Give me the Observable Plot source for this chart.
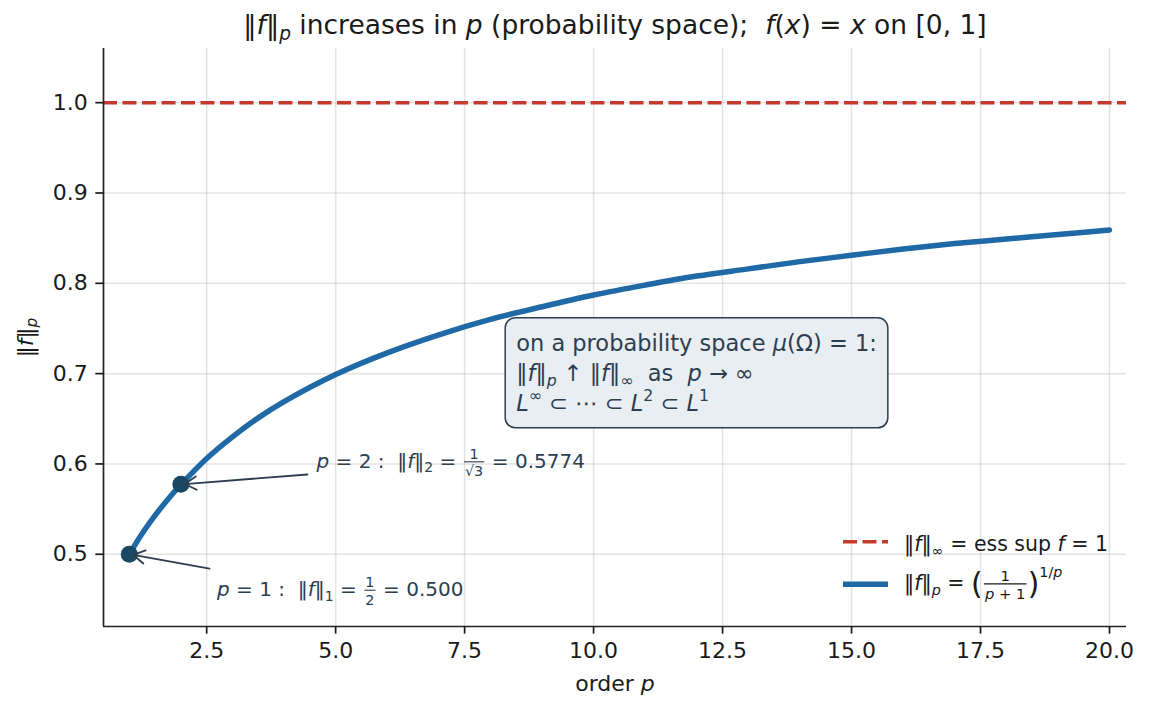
<!DOCTYPE html>
<html>
<head>
<meta charset="utf-8">
<script src="https://cdn.jsdelivr.net/npm/d3@7"></script>
<script src="https://cdn.jsdelivr.net/npm/@observablehq/plot@0.6"></script>
<style>
  body { margin: 0; background: #fff; }
  svg { font-family: "DejaVu Sans", sans-serif; }
</style>
</head>
<body>
<div id="chart"></div>
<script>
// ---------- data ----------
const orders = [1, 1.25, 1.5, 1.75, 2, 2.5, 3, 3.5, 4, 5, 6, 7, 8, 9, 10, 11, 12, 13, 14, 15, 16, 17, 18, 19, 20];
const norms  = [0.500, 0.523, 0.543, 0.561, 0.577, 0.606, 0.630, 0.651, 0.669, 0.699, 0.723, 0.743, 0.760, 0.774, 0.787, 0.798, 0.808, 0.816, 0.824, 0.831, 0.838, 0.844, 0.849, 0.854, 0.859];
const supNorm = [1.0];
const markedOrders = [1, 2];
const markedNorms = [0.5, 0.5774];
const xTicks = [2.5, 5, 7.5, 10, 12.5, 15, 17.5, 20];
const yTicks = [0.5, 0.6, 0.7, 0.8, 0.9, 1.0];

const curve = orders.map((p, i) => ({p, v: norms[i]}));
const marked = markedOrders.map((p, i) => ({p, v: markedNorms[i]}));

// ---------- plain fallback strings (rebuilt as rich text below) ----------
const T_TITLE = "‖f‖p increases in p (probability space);  f(x) = x on [0, 1]";
const T_YLAB = "‖f‖p";
const T_XLAB = "order p";
const T_A1 = "p = 1 :  ‖f‖1 = 1/2 = 0.500";
const T_A2 = "p = 2 :  ‖f‖2 = 1/√3 = 0.5774";
const T_B1 = "on a probability space μ(Ω) = 1:";
const T_B2 = "‖f‖p ↑ ‖f‖∞  as  p → ∞";
const T_B3 = "L∞ ⊂ ⋯ ⊂ L2 ⊂ L1";
const T_L1 = "‖f‖∞ = ess sup f = 1";
const T_L2 = "‖f‖p = (1/(p + 1))^(1/p)";

const BLUE = "#1f6aa6", RED = "#c53a2c", DOT = "#1a4862", SLATE = "#2c3e50", INK = "#1a1a1a";

const plot = Plot.plot({
  width: 1150,
  height: 714,
  marginLeft: 103,
  marginRight: 24,
  marginTop: 48,
  marginBottom: 88,
  style: {fontFamily: "DejaVu Sans", fontSize: "22px", color: INK, background: "white", overflow: "visible"},
  x: {domain: [0.5, 20.33]},
  y: {domain: [0.42, 1.06]},
  marks: [
    Plot.gridX(xTicks, {stroke: "#b0b0b0", strokeOpacity: 0.35, strokeWidth: 1.5}),
    Plot.gridY(yTicks, {stroke: "#b0b0b0", strokeOpacity: 0.35, strokeWidth: 1.5}),
    Plot.ruleY(supNorm, {stroke: RED, strokeWidth: 3.5, strokeDasharray: "14,5.5"}),
    Plot.line(curve, {x: "p", y: "v", stroke: BLUE, strokeWidth: 5.5, curve: "catmull-rom"}),
    Plot.dot(marked, {x: "p", y: "v", r: 8.5, fill: DOT}),
    Plot.arrow(marked, {x1: [2.555, 4.454], y1: [0.4842, 0.5883], x2: "p", y2: "v",
      stroke: SLATE, strokeWidth: 1.8, headLength: 11, insetEnd: 4}),
    Plot.text([T_A1], {x: [2.70], y: [0.4606], textAnchor: "start", lineAnchor: "middle", fontSize: 20, fill: SLATE}),
    Plot.text([T_A2], {x: [4.63], y: [0.6028], textAnchor: "start", lineAnchor: "middle", fontSize: 20, fill: SLATE}),
    Plot.ruleX([0.5], {stroke: "#222", strokeWidth: 1.7}),
    Plot.ruleY([0.42], {stroke: "#222", strokeWidth: 1.7}),
    Plot.axisX(xTicks, {tickFormat: d3.format(".1f"), tickSize: 7.7, tickPadding: 8, label: null, strokeWidth: 1.7}),
    Plot.axisY(yTicks, {tickFormat: d3.format(".1f"), tickSize: 7.7, tickPadding: 8, label: null, strokeWidth: 1.7}),
    Plot.text([T_B1], {x: [8.5], y: [0.70], dy: -30, textAnchor: "start", lineAnchor: "middle", fontSize: 22.5, fill: SLATE}),
    Plot.text([T_B2], {x: [8.5], y: [0.70], dy: 0, textAnchor: "start", lineAnchor: "middle", fontSize: 22.5, fill: SLATE}),
    Plot.text([T_B3], {x: [8.5], y: [0.70], dy: 30, textAnchor: "start", lineAnchor: "middle", fontSize: 22.5, fill: SLATE}),
    Plot.text([T_TITLE], {frameAnchor: "top", dy: -23, textAnchor: "middle", lineAnchor: "middle", fontSize: 26.5, fill: INK}),
    Plot.text([T_YLAB], {frameAnchor: "left", dx: -78, rotate: -90, textAnchor: "middle", lineAnchor: "middle", fontSize: 22, fill: INK}),
    Plot.text([T_XLAB], {frameAnchor: "bottom", dy: 57, textAnchor: "middle", lineAnchor: "middle", fontSize: 22, fill: INK})
  ]
});
document.getElementById("chart").append(plot);

// ---------- rich (math-like) text ----------
const I = s => ({i: s});
const SUB = parts => ({sub: parts});
const SUP = (parts, lift) => ({sup: parts, lift});
const BIG = s => ({big: s});
const FRAC = (n, d) => ({frac: [n, d]});

function renderRich(textNode, segs, fs, color) {
  const t = d3.select(textNode);
  t.text(null);
  let shift = 0, pendingDx = 0;
  const fracs = [];
  const piece = (str, size, target, italic) => {
    const ts = t.append("tspan").text(str).attr("font-size", fs * size);
    if (italic) ts.attr("font-style", "italic");
    if (Math.abs(target - shift) > 1e-6) { ts.attr("dy", target - shift); shift = target; }
    if (pendingDx) { ts.attr("dx", pendingDx); pendingDx = 0; }
    return ts;
  };
  const group = (parts, size, target) => [].concat(parts).map(p =>
    typeof p === "string" ? piece(p, size, target, false) : piece(p.i, size, target, true));
  const len = list => d3.sum(list, n => n.node().getComputedTextLength());
  for (const s of segs) {
    if (typeof s === "string" || s.i !== undefined) group(s, 1, 0);
    else if (s.sub !== undefined) group(s.sub, 0.7, 0.22 * fs);
    else if (s.sup !== undefined) group(s.sup, 0.7, (s.lift ?? -0.42) * fs);
    else if (s.big !== undefined) group(s.big, 1.45, 0.2 * fs);
    else if (s.frac) {
      const p0 = pendingDx; pendingDx = 0;
      const pad = 0.06 * fs;
      const num = group(s.frac[0], 0.72, -0.46 * fs);
      const nw = len(num);
      const den = group(s.frac[1], 0.72, 0.43 * fs);
      const dw = len(den);
      const W = Math.max(nw, dw) + 0.1 * fs;
      num[0].attr("dx", p0 + pad + (W - nw) / 2);
      den[0].attr("dx", -(nw + dw) / 2);
      pendingDx = (W - dw) / 2 + pad;
      fracs.push({first: num[0].node(), W, nw});
    }
  }
  const spans = t.selectAll("tspan").nodes();
  for (const f of fracs) {
    let idx = 0;
    for (const sp of spans) { if (sp === f.first) break; idx += sp.textContent.length; }
    const pos = textNode.getStartPositionOfChar(idx);
    const x1 = pos.x - (f.W - f.nw) / 2;
    const y = pos.y + 0.16 * fs;
    d3.select(textNode.parentNode).append("line")
      .attr("transform", textNode.getAttribute("transform"))
      .attr("x1", x1).attr("x2", x1 + f.W).attr("y1", y).attr("y2", y)
      .attr("stroke", color).attr("stroke-width", Math.max(1, fs * 0.055));
  }
}

const normP = ["‖", I("f"), "‖", SUB(I("p"))];
const richSpecs = new Map([
  [T_TITLE, {fs: 26.5, color: INK, segs: [...normP, " increases in ", I("p"), " (probability space);  ",
      I("f"), "(", I("x"), ") = ", I("x"), " on [0, 1]"]}],
  [T_YLAB, {fs: 22, color: INK, segs: normP}],
  [T_XLAB, {fs: 22, color: INK, segs: ["order ", I("p")]}],
  [T_A1, {fs: 20, color: SLATE, segs: [I("p"), " = 1 :  ‖", I("f"), "‖", SUB("1"), " = ", FRAC("1", "2"), " = 0.500"]}],
  [T_A2, {fs: 20, color: SLATE, segs: [I("p"), " = 2 :  ‖", I("f"), "‖", SUB("2"), " = ", FRAC("1", "√3"), " = 0.5774"]}],
  [T_B1, {fs: 22.5, color: SLATE, segs: ["on a probability space ", I("μ"), "(Ω) = 1:"]}],
  [T_B2, {fs: 22.5, color: SLATE, segs: [...normP, " ↑ ‖", I("f"), "‖", SUB("∞"), "  as  ", I("p"), " → ∞"]}],
  [T_B3, {fs: 22.5, color: SLATE, segs: [I("L"), SUP("∞"), " ⊂ ⋯ ⊂ ", I("L"), SUP("2"), " ⊂ ", I("L"), SUP("1")]}],
  [T_L1, {fs: 20.5, color: INK, segs: ["‖", I("f"), "‖", SUB("∞"), " = ess sup ", I("f"), " = 1"]}],
  [T_L2, {fs: 20.5, color: INK, segs: [...normP, " = ", BIG("("), FRAC("1", [I("p"), " + 1"]), BIG(")"), SUP(["1/", I("p")], -0.62)]}]
]);

const svg = d3.select(plot);
const boxTexts = [];
svg.selectAll("text").each(function () {
  const key = this.textContent;
  if (richSpecs.has(key)) {
    const spec = richSpecs.get(key);
    renderRich(this, spec.segs, spec.fs, spec.color);
    if (key === T_B1 || key === T_B2 || key === T_B3) boxTexts.push(this);
  }
});

// ---------- annotation box around the three text lines ----------
(function () {
  const sr = plot.getBoundingClientRect();
  let x0 = Infinity, y0 = Infinity, x1 = -Infinity, y1 = -Infinity;
  for (const n of boxTexts) {
    const r = n.getBoundingClientRect();
    x0 = Math.min(x0, r.left - sr.left); y0 = Math.min(y0, r.top - sr.top);
    x1 = Math.max(x1, r.right - sr.left); y1 = Math.max(y1, r.bottom - sr.top);
  }
  const padX = 11, padY = 12;
  let g = boxTexts[0];
  while (g.parentNode !== plot) g = g.parentNode;
  const rect = document.createElementNS("http://www.w3.org/2000/svg", "rect");
  d3.select(rect)
    .attr("x", x0 - padX).attr("y", y0 - padY)
    .attr("width", x1 - x0 + 2 * padX).attr("height", y1 - y0 + 2 * padY)
    .attr("rx", 10).attr("ry", 10)
    .attr("fill", "#e9eef3").attr("stroke", SLATE).attr("stroke-width", 1.5);
  plot.insertBefore(rect, g);
})();

// ---------- legend (lower right, no frame) ----------
(function () {
  const right = 1150 - 24, bottom = 714 - 88;
  const lg = svg.append("g").attr("text-anchor", "start");
  const entries = [
    {key: T_L1, handleY: bottom - 84.3, baseY: bottom - 75, stroke: RED, width: 3.5, dash: "14,5.5"},
    {key: T_L2, handleY: bottom - 41.7, baseY: bottom - 36, stroke: BLUE, width: 5.5, dash: null}
  ];
  for (const e of entries) {
    lg.append("line")
      .attr("x1", right - 283).attr("x2", right - 238)
      .attr("y1", e.handleY).attr("y2", e.handleY)
      .attr("stroke", e.stroke).attr("stroke-width", e.width)
      .attr("stroke-dasharray", e.dash);
    const tx = lg.append("text").attr("x", right - 222).attr("y", e.baseY)
      .attr("text-anchor", "start").attr("fill", INK).text(e.key);
    const spec = richSpecs.get(e.key);
    renderRich(tx.node(), spec.segs, spec.fs, spec.color);
  }
})();
</script>
</body>
</html>
